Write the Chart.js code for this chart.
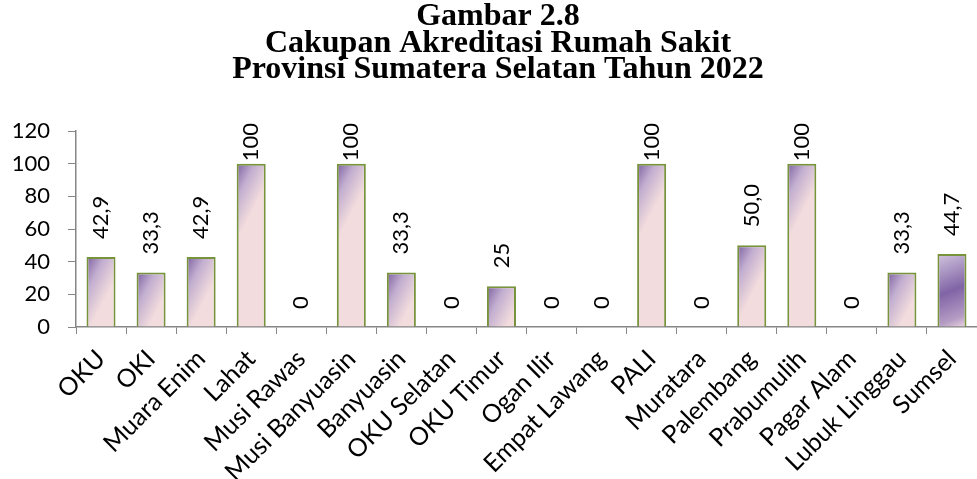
<!DOCTYPE html>
<html>
<head>
<meta charset="utf-8">
<script src="https://cdn.jsdelivr.net/npm/chart.js@4/dist/chart.umd.min.js"></script>
<style>
  html, body { margin: 0; padding: 0; background: #fff; }
  canvas { display: block; }
</style>
</head>
<body>
<canvas id="grafik" width="977" height="479"></canvas>
<script>
// ======= DATA =======
const judul = ["Gambar 2.8", "Cakupan Akreditasi Rumah Sakit", "Provinsi Sumatera Selatan Tahun 2022"];
const kabupaten = ["OKU", "OKI", "Muara Enim", "Lahat", "Musi Rawas", "Musi Banyuasin", "Banyuasin",
  "OKU Selatan", "OKU Timur", "Ogan Ilir", "Empat Lawang", "PALI", "Muratara", "Palembang",
  "Prabumulih", "Pagar Alam", "Lubuk Linggau", "Sumsel"];
const cakupan = [42.9, 33.3, 42.9, 100, 0, 100, 33.3, 0, 25, 0, 0, 100, 0, 50.0, 100, 0, 33.3, 44.7];
const labelTeks = ["42,9", "33,3", "42,9", "100", "0", "100", "33,3", "0", "25", "0", "0", "100",
  "0", "50,0", "100", "0", "33,3", "44,7"];
const sumbuY = [0, 20, 40, 60, 80, 100, 120];

const LEBAR_BAR = 0.58;

// gradien tiap batang: ungu di pojok kiri atas, memudar ke merah muda
function warnaBatang(c) {
  const chart = c.chart;
  if (c.type !== "data" || !chart.chartArea) return "#f2dcdb";
  const xs = chart.scales.x, ys = chart.scales.y;
  const cx = xs.getPixelForValue(c.dataIndex);
  const w = xs.width / kabupaten.length * LEBAR_BAR;
  const kiri = cx - w / 2, kanan = cx + w / 2;
  const atas = ys.getPixelForValue(cakupan[c.dataIndex]);
  const bawah = ys.getPixelForValue(0);
  const g2 = chart.ctx;
  if (kabupaten[c.dataIndex] === "Sumsel") {
    const gr = g2.createLinearGradient(kiri, atas, kanan, bawah);
    gr.addColorStop(0, "#d2c5de");
    gr.addColorStop(0.5, "#8064a6");
    gr.addColorStop(0.85, "#b59cc4");
    gr.addColorStop(1, "#ecd6e2");
    return gr;
  }
  const gr = g2.createLinearGradient(kiri, atas, kiri + w * 1.1, atas + w * 0.58);
  gr.addColorStop(0, "#7c5fa0");
  gr.addColorStop(0.45, "#c2aed0");
  gr.addColorStop(1, "#f2dcdd");
  return gr;
}

// ======= JUDUL (tiga baris, sedikit ke kanan dari tengah) =======
const judulGrafik = {
  id: "judulGrafik",
  afterDraw(chart) {
    const ctx = chart.ctx;
    ctx.save();
    ctx.font = "bold 32px 'Liberation Serif'";
    ctx.fillStyle = "#000";
    ctx.textAlign = "center";
    ctx.textBaseline = "middle";
    judul.forEach((baris, i) => ctx.fillText(baris, 498, 17 + i * 26.5));
    ctx.restore();
  }
};

// ======= LABEL NILAI (vertikal di atas batang) =======
const labelNilai = {
  id: "labelNilai",
  afterDatasetsDraw(chart) {
    const ctx = chart.ctx;
    const meta = chart.getDatasetMeta(0);
    const batas = chart.chartArea.top - 8;
    ctx.save();
    ctx.font = "22px Lato";
    ctx.fillStyle = "#000";
    ctx.textBaseline = "middle";
    ctx.textAlign = "left";
    meta.data.forEach((bar, i) => {
      const teks = labelTeks[i];
      const w = ctx.measureText(teks).width;
      let y = bar.y - 18;
      if (y - w < batas) y = batas + w;
      ctx.save();
      ctx.translate(bar.x, y);
      ctx.rotate(-Math.PI / 2);
      ctx.fillText(teks, 0, 0);
      ctx.restore();
    });
    ctx.restore();
  }
};

new Chart(document.getElementById("grafik").getContext("2d"), {
  type: "bar",
  data: {
    labels: kabupaten,
    datasets: [{
      data: cakupan,
      backgroundColor: warnaBatang,
      borderColor: "#77933c",
      borderWidth: 2,
      barPercentage: LEBAR_BAR,
      categoryPercentage: 1
    }]
  },
  options: {
    responsive: false,
    animation: false,
    layout: { padding: { left: 0, right: -2, top: 131, bottom: 0 } },
    plugins: {
      legend: { display: false },
      tooltip: { enabled: false },
      title: { display: false }
    },
    scales: {
      x: {
        grid: { drawOnChartArea: false, tickLength: 7, color: "#868686", offset: true },
        border: { color: "#868686", width: 1.5 },
        ticks: {
          color: "#000",
          font: { family: "Lato", size: 25 },
          minRotation: 45,
          maxRotation: 45,
          autoSkip: false,
          padding: 10
        },
        afterFit: s => { s.height = 152; s.paddingLeft = 0; s.paddingRight = 0; }
      },
      y: {
        min: 0,
        max: 120,
        afterBuildTicks: s => { s.ticks = sumbuY.map(v => ({ value: v })); },
        grid: { drawOnChartArea: false, tickLength: 8, color: "#868686" },
        border: { color: "#868686", width: 1.5 },
        ticks: { color: "#000", font: { family: "Lato", size: 22 }, padding: 18 },
        afterFit: s => { s.width = 76; }
      }
    }
  },
  plugins: [labelNilai, judulGrafik]
});
</script>
</body>
</html>
